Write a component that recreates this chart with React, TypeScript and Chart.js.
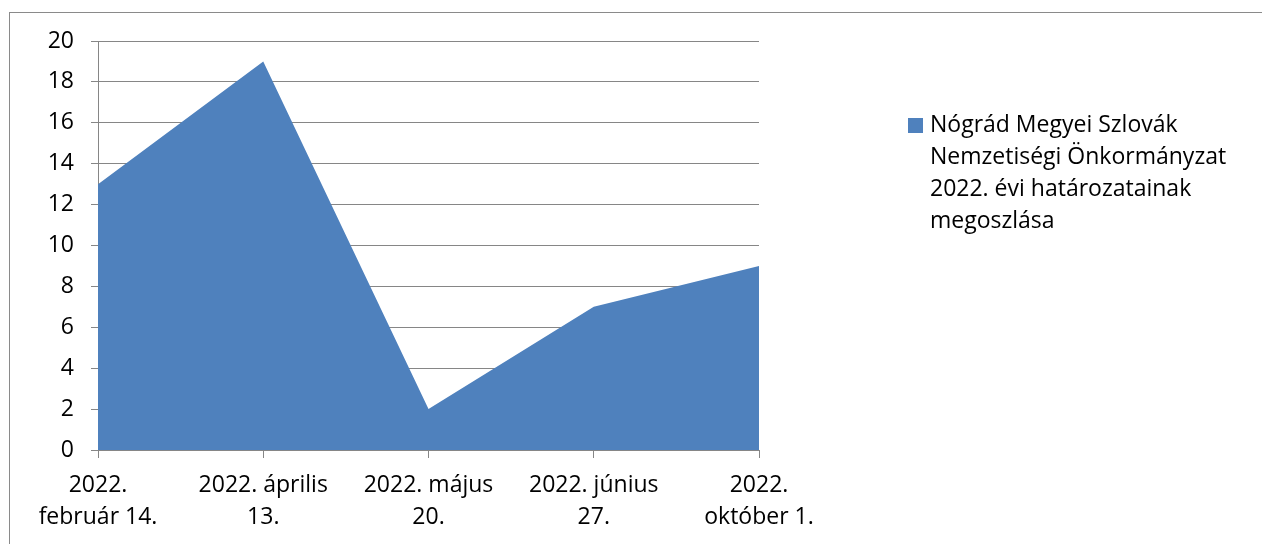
import React, { useEffect, useRef } from "react";
import { Chart, registerables } from "chart.js";

Chart.register(...registerables);

const categories: string[][] = [
  ["2022.", "február 14."],
  ["2022. április", "13."],
  ["2022. május", "20."],
  ["2022. június", "27."],
  ["2022.", "október 1."],
];
const seriesValues: number[] = [13, 19, 2, 7, 9];
const seriesName = "Nógrád Megyei Szlovák Nemzetiségi Önkormányzat 2022. évi határozatainak megoszlása";
const legendLines: string[] = [
  "Nógrád Megyei Szlovák",
  "Nemzetiségi Önkormányzat",
  "2022. évi határozatainak",
  "megoszlása",
];
const yMin = 0;
const yMax = 20;
const yStep = 2;

const FONT = "'Open Sans', sans-serif";
const FILL = "#4F81BD";
const GRID = "#868686";

export default function App() {
  const canvasRef = useRef<HTMLCanvasElement | null>(null);

  useEffect(() => {
    if (!canvasRef.current) return;
    const chart = new Chart(canvasRef.current, {
      type: "line",
      data: {
        labels: categories,
        datasets: [
          {
            label: seriesName,
            data: seriesValues,
            fill: "origin",
            backgroundColor: FILL,
            borderColor: FILL,
            borderWidth: 0,
            pointRadius: 0,
            tension: 0,
          },
        ],
      },
      options: {
        responsive: false,
        animation: false,
        devicePixelRatio: 1,
        layout: { padding: { left: 0, top: 41, right: 503, bottom: 0 } },
        plugins: {
          legend: { display: false },
          tooltip: { enabled: false },
        },
        scales: {
          x: {
            offset: false,
            grid: {
              display: true,
              drawOnChartArea: false,
              drawTicks: true,
              tickLength: 8,
              color: GRID,
            },
            border: { display: true, color: GRID, width: 1 },
            ticks: {
              autoSkip: false,
              maxRotation: 0,
              minRotation: 0,
              color: "#000",
              padding: 11,
              font: { family: FONT, size: 23, lineHeight: 1.4 },
            },
            afterFit: (scale: any) => {
              scale.height = 94;
            },
          },
          y: {
            min: yMin,
            max: yMax,
            grid: {
              color: GRID,
              drawTicks: true,
              tickLength: 7,
            },
            border: { display: true, color: GRID, width: 1 },
            ticks: {
              stepSize: yStep,
              color: "#000",
              padding: 17,
              font: { family: FONT, size: 23 },
            },
            afterFit: (scale: any) => {
              scale.width = 98;
            },
          },
        },
      },
    });
    return () => chart.destroy();
  }, []);

  return (
    <div
      style={{
        position: "fixed",
        left: 0,
        top: 0,
        width: 1262,
        height: 544,
        overflow: "hidden",
        background: "#fff",
      }}
    >
      <div
        style={{
          position: "absolute",
          left: 9,
          top: 12,
          width: 1400,
          height: 700,
          border: "1px solid #8a8a8a",
          boxSizing: "border-box",
        }}
      />
      <canvas
        ref={canvasRef}
        width={1262}
        height={544}
        style={{ position: "absolute", left: 0, top: 0, width: 1262, height: 544 }}
      />
      <div
        style={{
          position: "absolute",
          left: 908,
          top: 118,
          width: 15,
          height: 15,
          background: FILL,
        }}
      />
      <div
        style={{
          position: "absolute",
          left: 930,
          top: 107,
          width: 330,
          fontFamily: FONT,
          fontSize: 23,
          lineHeight: "32px",
          color: "#000",
          whiteSpace: "nowrap",
        }}
      >
        {legendLines.map((l, i) => (
          <div key={i}>{l}</div>
        ))}
      </div>
    </div>
  );
}
